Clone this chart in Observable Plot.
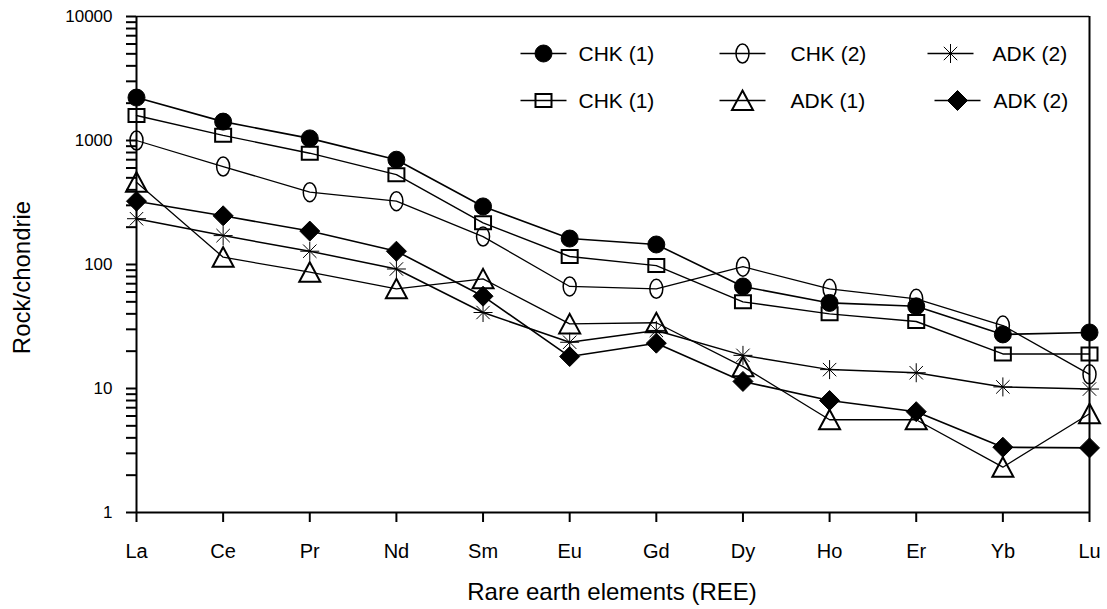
<!DOCTYPE html>
<html>
<head>
<meta charset="utf-8">
<script src="https://cdn.jsdelivr.net/npm/d3@7"></script>
<script src="https://cdn.jsdelivr.net/npm/@observablehq/plot@0.6"></script>
<style>
  html, body { margin: 0; padding: 0; background: #fff; }
  #chart svg { display: block; }
</style>
</head>
<body>
<div id="chart"></div>
<script>
// ---------- data ----------
const elements = ["La","Ce","Pr","Nd","Sm","Eu","Gd","Dy","Ho","Er","Yb","Lu"];
const chk1Circle   = [2220, 1420, 1040, 700, 294, 162, 145, 66.5, 49, 46, 27.3, 28.3];
const chk1Square   = [1590, 1100, 790, 530, 217, 116, 98, 50, 40, 34.7, 19, 19];
const chk2Ellipse  = [1000, 617, 383, 324, 168, 66.5, 63.7, 96, 63.7, 52.9, 32.2, 13];
const adk1Triangle = [461, 114.5, 86.7, 63.7, 76.6, 33.2, 33.9, 15, 5.6, 5.6, 2.32, 6.25];
const adk2Diamond  = [324, 247, 186, 128, 55.5, 18.1, 23.2, 11.4, 8.0, 6.5, 3.36, 3.32];
const adk2Asterisk = [234, 171, 128, 92, 41, 23.6, 29.4, 18.5, 14.2, 13.4, 10.3, 9.9];
const decadeTicks = [1, 10, 100, 1000, 10000];
const xTitle = "Rare earth elements (REE)";
const yTitle = "Rock/chondrie";

// ---------- custom symbols ----------
const symCircle = {draw(c) { c.moveTo(8.5, 0); c.arc(0, 0, 8.5, 0, 2 * Math.PI); c.closePath(); }};
const symSquare = {draw(c) { c.rect(-8, -6.5, 16, 13); }};
const symEllipse = {draw(c) {
  const rx = 6.5, ry = 9.5, k = 0.5523;
  c.moveTo(rx, 0);
  c.bezierCurveTo(rx, ry * k, rx * k, ry, 0, ry);
  c.bezierCurveTo(-rx * k, ry, -rx, ry * k, -rx, 0);
  c.bezierCurveTo(-rx, -ry * k, -rx * k, -ry, 0, -ry);
  c.bezierCurveTo(rx * k, -ry, rx, -ry * k, rx, 0);
  c.closePath();
}};
const symTriangle = {draw(c) { c.moveTo(0, -10); c.lineTo(10.5, 9.5); c.lineTo(-10.5, 9.5); c.closePath(); }};
const symDiamond = {draw(c) { c.moveTo(0, -10); c.lineTo(10, 0); c.lineTo(0, 10); c.lineTo(-10, 0); c.closePath(); }};
const symAsterisk = {draw(c) {
  const r = 9.5, d = 6.7;
  c.moveTo(0, -r); c.lineTo(0, r);
  c.moveTo(-r, 0); c.lineTo(r, 0);
  c.moveTo(-d, -d); c.lineTo(d, d);
  c.moveTo(-d, d); c.lineTo(d, -d);
}};
const symLegendLine = {draw(c) { c.moveTo(-23, 0); c.lineTo(23, 0); }};

const series = [
  {name: "CHK (1)", values: chk1Circle,   symbol: symCircle,   fill: "black", sw: 1,   lw: 1.6},
  {name: "CHK (1)b", values: chk1Square,  symbol: symSquare,   fill: "none",  sw: 2,   lw: 1.4},
  {name: "CHK (2)", values: chk2Ellipse,  symbol: symEllipse,  fill: "none",  sw: 1.5, lw: 1.3},
  {name: "ADK (1)", values: adk1Triangle, symbol: symTriangle, fill: "none",  sw: 2,   lw: 1.3},
  {name: "ADK (2)b", values: adk2Diamond, symbol: symDiamond,  fill: "black", sw: 1,   lw: 1.6},
  {name: "ADK (2)", values: adk2Asterisk, symbol: symAsterisk, fill: "none",  sw: 1,   lw: 1.5}
];

// legend layout (label, symbol index)
const legendLabels = ["CHK (1)", "CHK (2)", "ADK (2)", "CHK (1)", "ADK (1)", "ADK (2)"];
const legendSeries = [0, 2, 5, 1, 3, 4];
const legendSymX = [543, 742, 950, 543, 742, 957];
const legendTextX = [578, 790, 992, 578, 790, 993];
const legendY = [53, 53, 53, 100, 100, 100];

const W = 1107, H = 609;
const mL = 136, mR = 18, mT = 16, mB = 97;

const marks = [];
// axes lines & frame
marks.push(Plot.ruleY([1], {stroke: "black", strokeWidth: 2}));
marks.push(Plot.ruleX([elements[0]], {stroke: "black", strokeWidth: 2}));
marks.push(Plot.ruleY([10000], {stroke: "black", strokeWidth: 1.5}));
marks.push(Plot.ruleX([elements[elements.length - 1]], {stroke: "black", strokeWidth: 2}));

// y axis with minor ticks
const allYTicks = [];
for (const d of [1, 10, 100, 1000]) for (let k = 1; k <= 9; k++) allYTicks.push(d * k);
allYTicks.push(10000);
marks.push(Plot.axisY({
  ticks: allYTicks,
  tickFormat: d => decadeTicks.includes(d) ? String(d) : "",
  tickSize: 10, tickPadding: 14, fontSize: 17, strokeWidth: 2, label: null
}));
marks.push(Plot.axisX({tickSize: 10, tickPadding: 21, fontSize: 20, strokeWidth: 2, label: null}));

// data
for (const s of series) {
  const rows = elements.map((e, i) => ({element: e, value: s.values[i]}));
  marks.push(Plot.line(rows, {x: "element", y: "value", stroke: "black", strokeWidth: s.lw}));
}
for (const s of series) {
  const rows = elements.map((e, i) => ({element: e, value: s.values[i]}));
  marks.push(Plot.dot(rows, {x: "element", y: "value", symbol: s.symbol, fill: s.fill,
    stroke: "black", strokeWidth: s.sw}));
}

// legend
legendLabels.forEach((lab, i) => {
  const s = series[legendSeries[i]];
  marks.push(Plot.dot([0], {frameAnchor: "top-left", dx: legendSymX[i] - mL, dy: legendY[i] - mT,
    symbol: symLegendLine, stroke: "black", strokeWidth: 1.6, fill: "none"}));
  marks.push(Plot.dot([0], {frameAnchor: "top-left", dx: legendSymX[i] - mL, dy: legendY[i] - mT,
    symbol: s.symbol, stroke: "black", strokeWidth: s.sw, fill: s.fill}));
  marks.push(Plot.text([lab], {frameAnchor: "top-left", dx: legendTextX[i] - mL, dy: legendY[i] + 1 - mT,
    text: d => d, textAnchor: "start", lineAnchor: "middle", fontSize: 21, fill: "black"}));
});

// axis titles
marks.push(Plot.text([xTitle], {frameAnchor: "bottom", dy: 80, dx: -1, text: d => d,
  lineAnchor: "middle", fontSize: 24, fill: "black"}));
marks.push(Plot.text([yTitle], {frameAnchor: "left", dx: 22 - mL, dy: 13, rotate: -90, text: d => d,
  lineAnchor: "middle", textAnchor: "middle", fontSize: 24, fill: "black"}));

const chart = Plot.plot({
  width: W, height: H,
  marginLeft: mL, marginRight: mR, marginTop: mT, marginBottom: mB,
  style: {fontFamily: "'Liberation Sans', Arial, Helvetica, sans-serif", background: "white", color: "black"},
  x: {type: "point", domain: elements, padding: 0, round: false, label: null},
  y: {type: "log", domain: [1, 10000], label: null},
  marks
});
document.getElementById("chart").appendChild(chart);
</script>
</body>
</html>
